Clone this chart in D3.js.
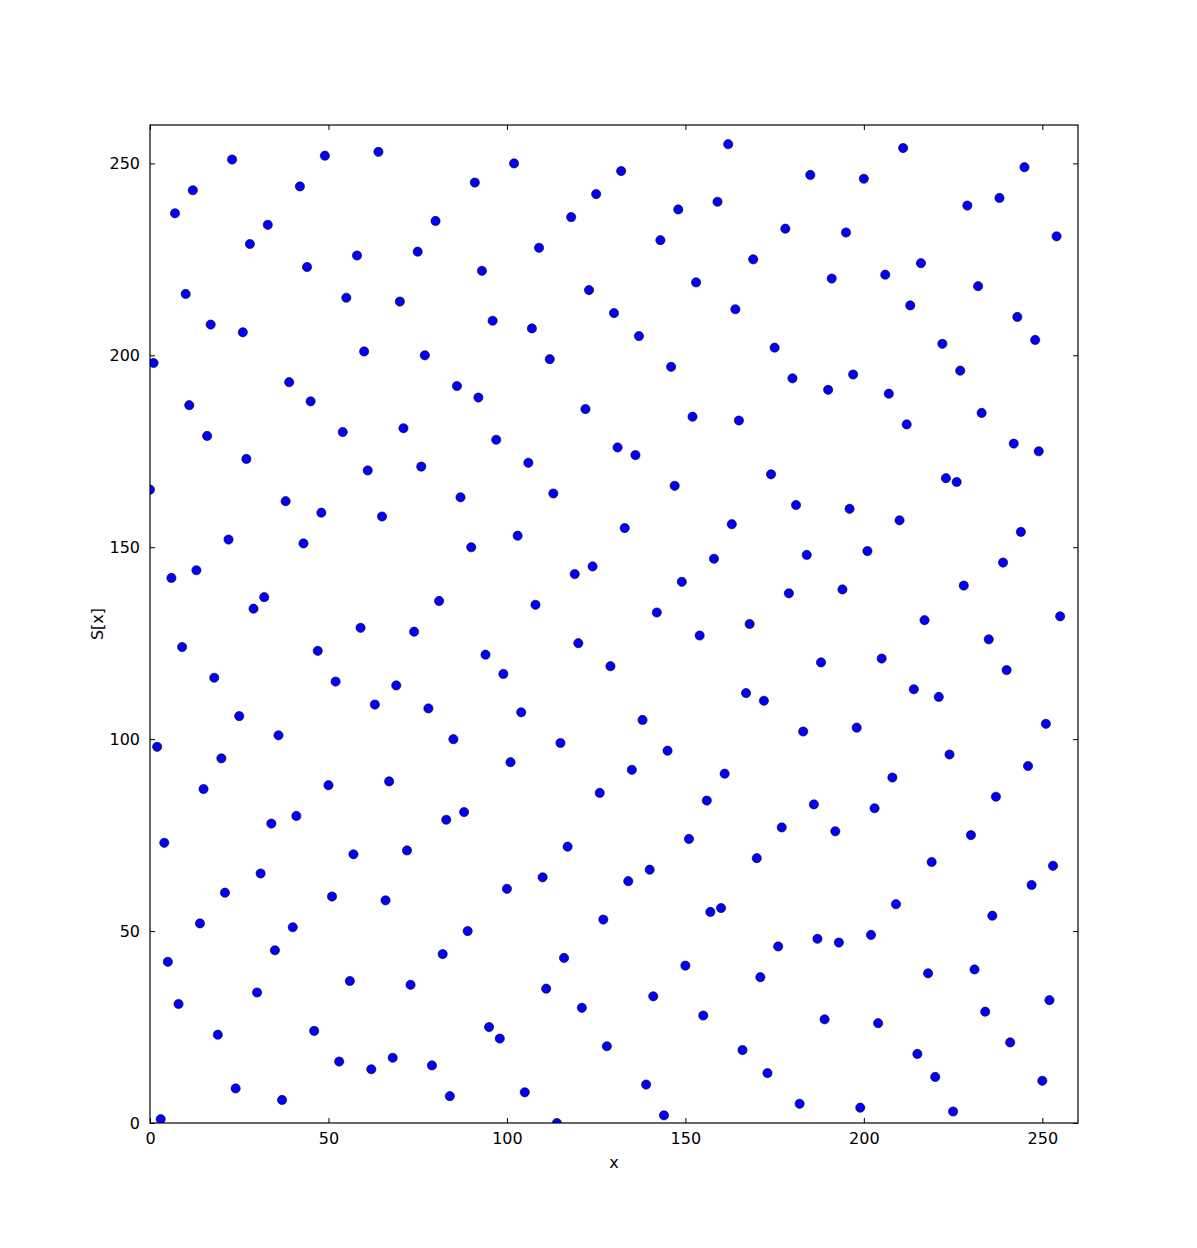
<!DOCTYPE html>
<html><head><meta charset="utf-8">
<script src="https://cdn.jsdelivr.net/npm/d3@7"></script>
<style>body{margin:0;background:#fff}</style>
</head><body>
<svg id="c" width="1197" height="1248"></svg>
<script>
const xValues = d3.range(0, 256);
const sValues = [165,198,98,1,73,42,142,237,31,124,216,187,243,144,52,87,179,208,116,23,95,60,152,251,9,106,206,173,229,134,34,65,137,234,78,45,101,6,162,193,51,80,244,151,223,188,24,123,159,252,88,59,115,16,180,215,37,70,226,129,201,170,14,109,253,158,58,89,17,114,214,181,71,36,128,227,171,200,108,15,235,136,44,79,7,100,192,163,81,50,150,245,189,222,122,25,209,178,22,117,61,94,250,153,107,8,172,207,135,228,64,35,199,164,0,99,43,72,236,143,125,30,186,217,145,242,86,53,20,119,211,176,248,155,63,92,174,205,105,10,66,33,133,230,2,97,197,166,238,141,41,74,184,219,127,28,84,55,147,240,56,91,255,156,212,183,19,112,130,225,69,38,110,13,169,202,46,77,233,138,194,161,5,102,148,247,83,48,120,27,191,220,76,47,139,232,160,195,103,4,246,149,49,82,26,121,221,190,90,57,157,254,182,213,113,18,224,131,39,68,12,111,203,168,96,3,167,196,140,239,75,40,218,185,29,126,54,85,241,146,118,21,177,210,154,249,93,62,204,175,11,104,32,67,231,132];
const xTicks = [0,50,100,150,200,250];
const yTicks = [0,50,100,150,200,250];

const svg = d3.select("#c");
const L = 150, R = 1078, T = 125, B = 1123;
const x = d3.scaleLinear().domain([0,260]).range([L,R]);
const y = d3.scaleLinear().domain([0,260]).range([B,T]);
const font = "DejaVu Sans, sans-serif";

svg.append("clipPath").attr("id","clip").append("rect")
  .attr("x",L).attr("y",T).attr("width",R-L).attr("height",B-T);

svg.append("g").attr("clip-path","url(#clip)")
  .selectAll("circle").data(xValues).join("circle")
  .attr("cx", d => x(d)).attr("cy", (d,i) => y(sValues[i]))
  .attr("r", 4.6).attr("fill", "#0000ff").attr("stroke", "#000").attr("stroke-width", 0.6);

const tl = 5;
const gb = svg.append("g").attr("transform",`translate(0,${B})`)
  .call(d3.axisBottom(x).tickValues(xTicks).tickSizeInner(-tl).tickSizeOuter(0).tickPadding(10));
const gt = svg.append("g").attr("transform",`translate(0,${T})`)
  .call(d3.axisTop(x).tickValues(xTicks).tickSizeInner(-tl).tickSizeOuter(0).tickFormat(""));
const gl = svg.append("g").attr("transform",`translate(${L},0)`)
  .call(d3.axisLeft(y).tickValues(yTicks).tickSizeInner(-tl).tickSizeOuter(0).tickPadding(10));
const gr = svg.append("g").attr("transform",`translate(${R},0)`)
  .call(d3.axisRight(y).tickValues(yTicks).tickSizeInner(-tl).tickSizeOuter(0).tickFormat(""));
[gb,gt,gl,gr].forEach(g => {
  g.select(".domain").remove();
  g.selectAll("line").attr("stroke","#000").attr("stroke-width",1);
  g.selectAll("text").attr("font-family",font).attr("font-size",16).attr("fill","#000");
});

svg.append("rect").attr("x",L).attr("y",T).attr("width",R-L).attr("height",B-T)
  .attr("fill","none").attr("stroke","#000").attr("stroke-width",1.2);

svg.append("text").attr("x",(L+R)/2).attr("y",1168).attr("text-anchor","middle")
  .attr("font-family",font).attr("font-size",16).text("x");
svg.append("text").attr("transform",`translate(103,${(T+B)/2}) rotate(-90)`).attr("text-anchor","middle")
  .attr("font-family",font).attr("font-size",16).text("S[x]");
</script>
</body></html>
